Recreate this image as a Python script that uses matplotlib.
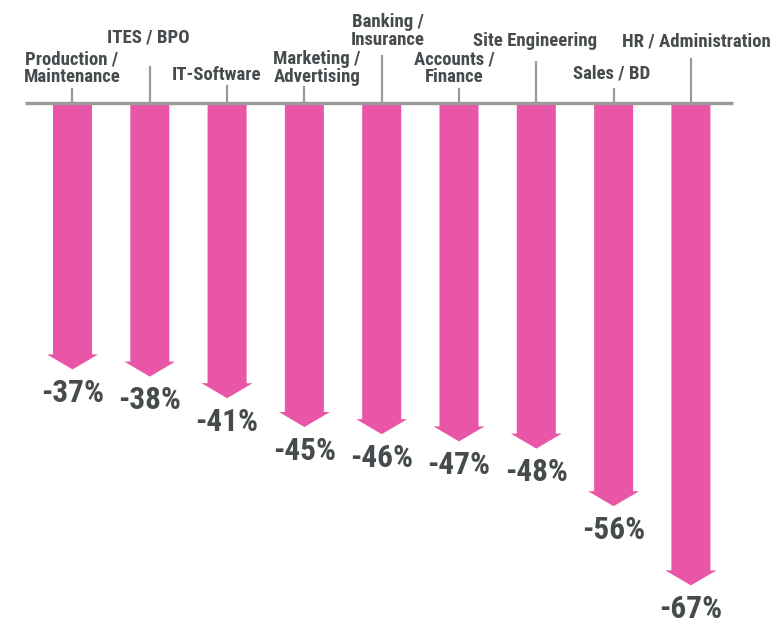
import matplotlib.pyplot as plt
from matplotlib.patches import FancyArrow

# datos
categorias = ['Production /\nMaintenance', 'ITES / BPO', 'IT-Software',
              'Marketing /\nAdvertising', 'Banking /\nInsurance', 'Accounts /\nFinance',
              'Site Engineering', 'Sales / BD', 'HR / Administration']
valores = [37, 38, 41, 45, 46, 47, 48, 56, 67]

# posiciones de las etiquetas (pixeles): centro x, centro y, tope de la guia
etiq_x = [72, 148, 217, 317, 388, 454, 535, 612, 696]
etiq_y = [68, 38, 75, 68, 31, 68, 41, 74, 41]
guia_y = [89, 67, 86, 87, 56, 89, 62, 89, 59]

rosa = '#E955A7'
gris = '#9A9A9A'
texto = '#464B4E'
fuente = ['Roboto Condensed', 'Barlow Condensed', 'DejaVu Sans']

W, H = 772, 619
x0, dx = 72.5, 77.3   # centro de la primera barra, separacion
y0, dy = 103, 7.2     # linea base, pixeles por punto porcentual


def px_x(px):
    return (px - x0) / dx


def px_y(py):
    return -(py - y0) / dy


fig = plt.figure(figsize=(W / 100, H / 100), dpi=100)
ax = fig.add_axes([0, 0, 1, 1])
ax.set_xlim(px_x(0), px_x(W))
ax.set_ylim(px_y(H), px_y(0))
ax.axis('off')

for i, v in enumerate(valores):
    flecha = FancyArrow(i, 0, 0, -v, width=39 / dx, head_width=51 / dx,
                        head_length=15 / dy, length_includes_head=True,
                        color=rosa, lw=0)
    ax.add_patch(flecha)
    ax.text(i, -v - 1.2, f'-{v}%', ha='center', va='top', fontsize=22.5,
            fontweight='bold', color=texto, family=fuente)
    # guia vertical y etiqueta
    ax.plot([i, i], [0, px_y(guia_y[i])], color=gris, lw=1.6, zorder=1)
    ax.text(px_x(etiq_x[i]), px_y(etiq_y[i]), categorias[i], ha='center',
            va='center', fontsize=13.5, fontweight='bold', color=texto,
            family=fuente, linespacing=1.0)

ax.plot([px_x(25), px_x(733)], [0, 0], color=gris, lw=2.4, zorder=3,
        solid_capstyle='butt')

fig.savefig('out.png', dpi=100)
